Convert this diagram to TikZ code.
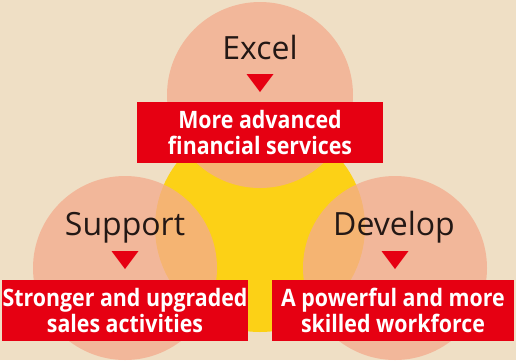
\documentclass[tikz,border=0pt]{standalone}
\usepackage{fontspec}
\setmainfont{Open Sans}
\newfontfamily\boxfont[FakeStretch=0.89]{Open Sans}
\usetikzlibrary{calc}
\definecolor{bg}{HTML}{EFDFC5}
\definecolor{sunny}{HTML}{FCD116}
\definecolor{salmon}{RGB}{244,172,142}
\definecolor{brandred}{HTML}{E60012}
\definecolor{ink}{HTML}{231815}
\tikzset{
  petal/.style={fill=salmon, fill opacity=0.77},
  heading/.style={anchor=base, text=ink, font=\fontsize{32}{36}\selectfont, inner sep=0pt},
  redbox/.style={fill=brandred, text=white, align=center, inner sep=0pt,
    font=\boxfont\bfseries\fontsize{24}{25.5}\selectfont},
  pointer/.style={fill=brandred},
}
\begin{document}
\begin{tikzpicture}[x=1pt, y=-1pt]
  \useasboundingbox (0,0) rectangle (516,360);
  \clip (0,0) rectangle (516,360);
  \fill[bg] (0,0) rectangle (516,360);

  % central disc and the three overlapping circles
  \fill[sunny] (260,227) circle[radius=105];
  \fill[petal] (260,95) circle[radius=93];
  \fill[petal] (125,268) circle[radius=92];
  \fill[petal] (395,268) circle[radius=92];

  % headings
  \node[heading] (excel) at (260,59) {Excel};
  \node[heading] (support) at (125,235) {Support};
  \node[heading] (develop) at (394,235) {Develop};

  % downward pointers
  \fill[pointer] ($(excel.base)+(-13.5,15)$) -- ++(27,0) -- ++(-13.5,18) -- cycle;
  \fill[pointer] ($(support.base)+(-13.5,16)$) -- ++(27,0) -- ++(-13.5,18) -- cycle;
  \fill[pointer] ($(develop.base)+(-12.5,16)$) -- ++(27,0) -- ++(-13.5,18) -- cycle;

  % outcome boxes
  \node[redbox, minimum width=246pt, minimum height=61pt] (b1) at (260,132.5)
    {More advanced\\financial services};
  \node[redbox, minimum width=246pt, minimum height=61pt] (b2) at (125,310.5)
    {Stronger and upgraded\\sales activities};
  \node[redbox, minimum width=242pt, minimum height=61pt] (b3) at (393,310.5)
    {A powerful and more\\skilled workforce};
\end{tikzpicture}
\end{document}
